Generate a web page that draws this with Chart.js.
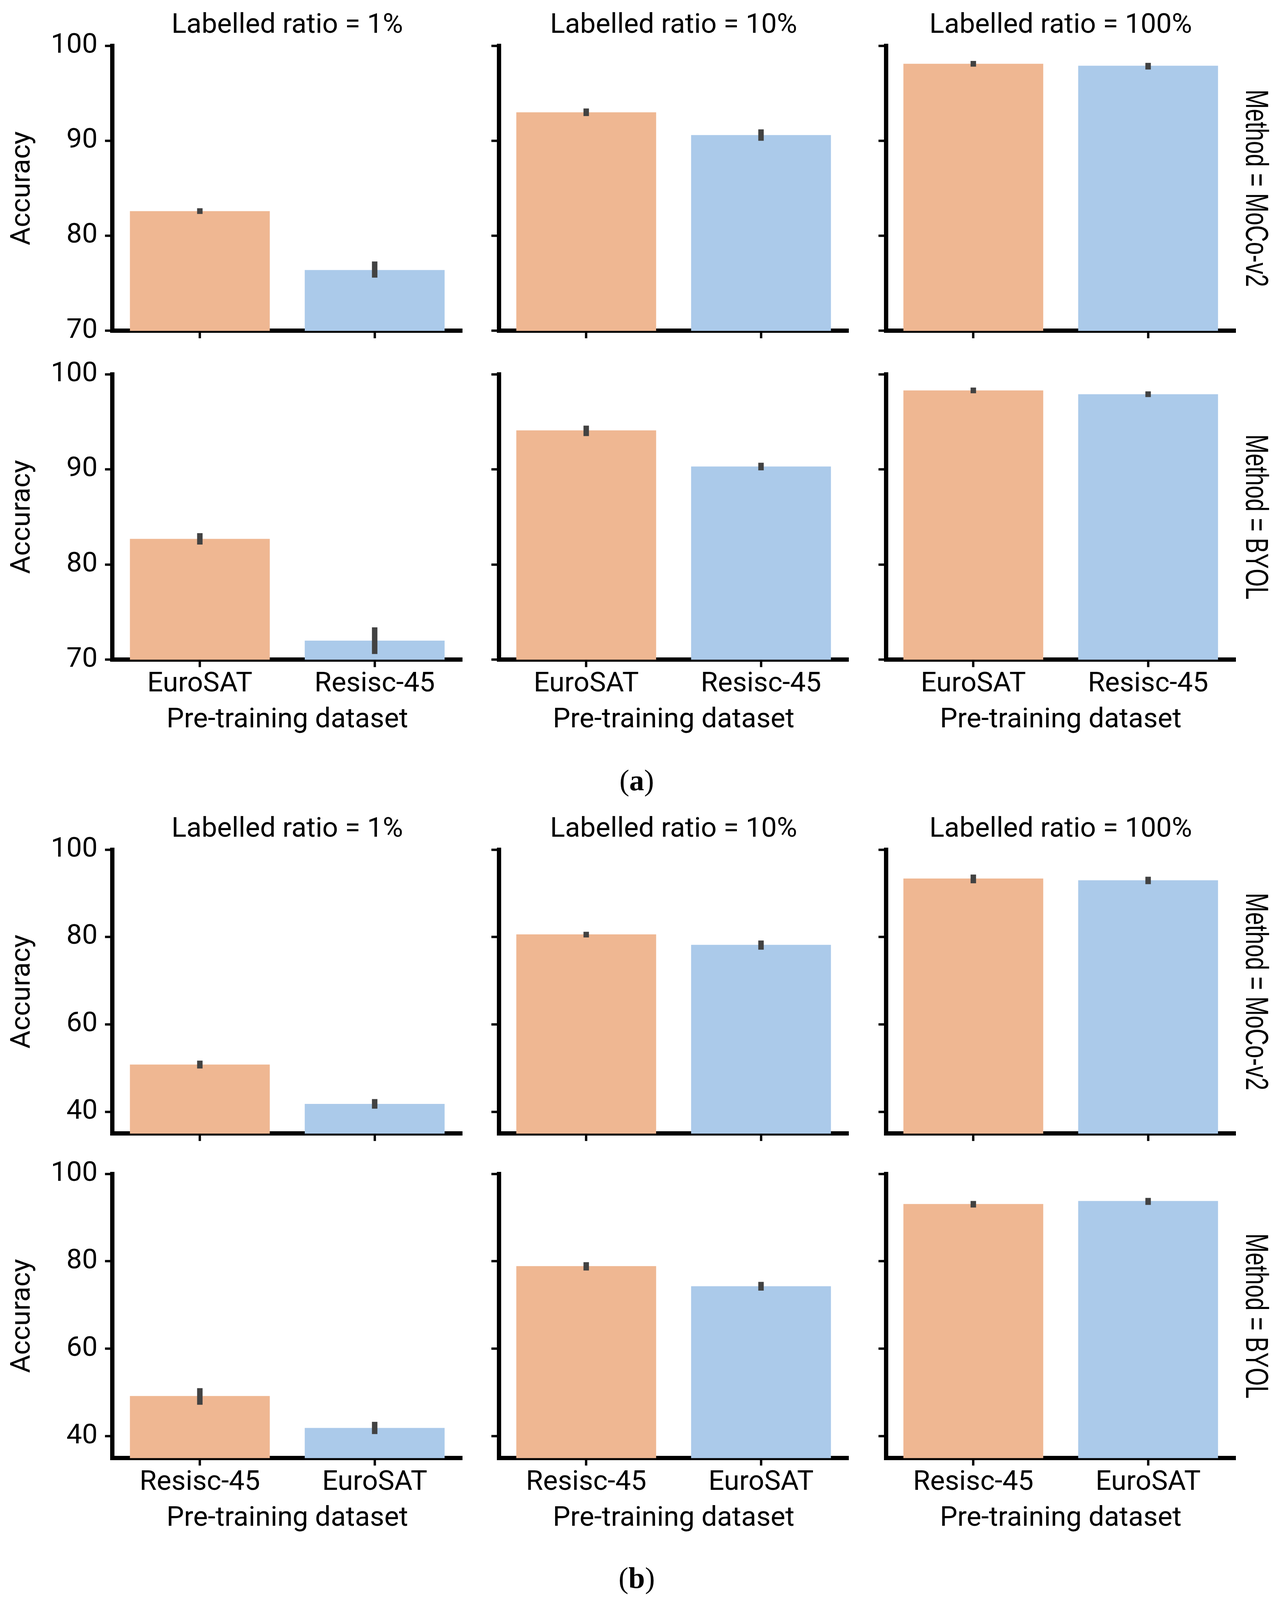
<!DOCTYPE html>
<html>
<head>
<meta charset="utf-8">
<script src="https://cdn.jsdelivr.net/npm/chart.js@4.4.1/dist/chart.umd.min.js"></script>
<style>
  html, body { margin: 0; padding: 0; background: #fff; overflow: hidden; }
  #wrap { position: relative; width: 3282px; height: 4650px; background: #fff; overflow: hidden; }
  .sub { position: absolute; left: 1430px; width: 400px; text-align: center;
         font-family: "Liberation Serif", "DejaVu Serif", serif;
         font-size: 76px; line-height: 76px; color: #000; }
  .sub b { font-weight: bold; }
</style>
</head>
<body>
<div id="wrap">
  <div class="sub" id="subA">(<b>a</b>)</div>
  <div class="sub" id="subB">(<b>b</b>)</div>
</div>
<script>
// facets
const ratios = ['1%', '10%', '100%'];
const methods = ['MoCo-v2', 'BYOL'];

// x categories (pre-training dataset) for each half of the figure
const datasetsA = ['EuroSAT', 'Resisc-45'];
const datasetsB = ['Resisc-45', 'EuroSAT'];

// y ticks
const yTicksA = [70, 80, 90, 100];
const yTicksB = [40, 60, 80, 100];

// (a) mean accuracy, one pair per labelled ratio (1%, 10%, 100%)
const accA_moco = [[82.6, 76.4], [93.0, 90.6], [98.1, 97.9]];
const accA_byol = [[82.7, 72.0], [94.1, 90.3], [98.3, 97.9]];
// (a) error bars [low, high]
const ciA_moco = [[[82.3, 82.9], [75.6, 77.3]], [[92.6, 93.4], [90.0, 91.2]], [[97.8, 98.4], [97.5, 98.2]]];
const ciA_byol = [[[82.1, 83.3], [70.6, 73.4]], [[93.5, 94.6], [89.9, 90.7]], [[98.0, 98.6], [97.6, 98.2]]];

// (b) mean accuracy
const accB_moco = [[50.8, 41.8], [80.6, 78.2], [93.4, 93.0]];
const accB_byol = [[49.2, 41.9], [78.9, 74.3], [93.1, 93.8]];
// (b) error bars
const ciB_moco = [[[49.9, 51.7], [40.7, 42.9]], [[79.9, 81.2], [77.1, 79.2]], [[92.3, 94.3], [92.1, 93.8]]];
const ciB_byol = [[[47.2, 51.0], [40.5, 43.3]], [[77.9, 79.8], [73.3, 75.3]], [[92.3, 93.8], [92.9, 94.5]]];

Chart.defaults.font.family = 'Roboto, "Liberation Sans", sans-serif';
Chart.defaults.color = '#000';

const ORANGE = '#efb792';
const BLUE = '#abcaea';
const ERR = '#424242';
const FS = 71;
const FONT = { size: FS, lineHeight: 1.1 };

// the window may be shorter than the figure: squeeze the vertical layout to fit
const FIG_H = 4650;
const SY = Math.min(1, window.innerHeight / FIG_H);

// where the plot areas go on the page
const colLeft = [288, 1277, 2268];
const plotW = 895;
const rows = [
  { top: 133,  bottom: 961,  cats: datasetsA, acc: accA_moco, ci: ciA_moco, method: methods[0], yMin: 70, yMax: 100, yTicks: yTicksA, first: true,  last: false },
  { top: 1088, bottom: 1918, cats: datasetsA, acc: accA_byol, ci: ciA_byol, method: methods[1], yMin: 70, yMax: 100, yTicks: yTicksA, first: false, last: true },
  { top: 2469, bottom: 3294, cats: datasetsB, acc: accB_moco, ci: ciB_moco, method: methods[0], yMin: 35, yMax: 100, yTicks: yTicksB, first: true,  last: false },
  { top: 3412, bottom: 4238, cats: datasetsB, acc: accB_byol, ci: ciB_byol, method: methods[1], yMin: 35, yMax: 100, yTicks: yTicksB, first: false, last: true }
];

const wrap = document.getElementById('wrap');
wrap.style.height = Math.round(FIG_H * SY) + 'px';
document.getElementById('subA').style.top = Math.round(2267 * SY - 38) + 'px';
document.getElementById('subB').style.top = Math.round(4585 * SY - 38) + 'px';

// vertical error bar on every bar
const errorBars = {
  id: 'errorBars',
  afterDatasetsDraw(chart) {
    const ctx = chart.ctx;
    const y = chart.scales.y;
    const ds = chart.data.datasets[0];
    const meta = chart.getDatasetMeta(0);
    ctx.save();
    ctx.strokeStyle = ERR;
    ctx.lineWidth = 14;
    ctx.lineCap = 'butt';
    ds.ci.forEach((c, i) => {
      const x = meta.data[i].x;
      ctx.beginPath();
      ctx.moveTo(x, y.getPixelForValue(c[0]));
      ctx.lineTo(x, y.getPixelForValue(c[1]));
      ctx.stroke();
    });
    ctx.restore();
  }
};

// row label on the right of the last column
function methodLabel(text) {
  return {
    id: 'methodLabel',
    afterDraw(chart) {
      const ctx = chart.ctx;
      const a = chart.chartArea;
      ctx.save();
      ctx.translate(a.right + 27, (a.top + a.bottom) / 2);
      ctx.rotate(Math.PI / 2);
      ctx.scale(0.82 * SY, 1);
      ctx.font = '82px "Liberation Sans", Arial, sans-serif';
      ctx.fillStyle = '#000';
      ctx.textAlign = 'center';
      ctx.textBaseline = 'alphabetic';
      ctx.fillText(text, 0, 0);
      ctx.restore();
    }
  };
}

function makeConfig(row, col) {
  const axisGrid = { display: true, drawOnChartArea: false, offset: false, color: '#000', tickLength: 19, tickWidth: 6 };
  const axisBorder = { display: true, color: '#000', width: 11 };
  return {
    type: 'bar',
    data: {
      labels: row.cats,
      datasets: [{
        data: row.acc[col],
        ci: row.ci[col],
        backgroundColor: [ORANGE, BLUE],
        borderWidth: 0,
        barPercentage: 0.8,
        categoryPercentage: 1
      }]
    },
    options: {
      responsive: false,
      maintainAspectRatio: false,
      animation: false,
      devicePixelRatio: 1,
      events: [],
      layout: { padding: { top: 0, left: 0, right: col === 2 ? 120 : 20, bottom: 0 } },
      plugins: {
        legend: { display: false },
        tooltip: { enabled: false },
        title: {
          display: row.first,
          fullSize: false,
          text: 'Labelled ratio = ' + ratios[col],
          color: '#000',
          font: { size: FS, lineHeight: 1.1, weight: 'normal' },
          padding: { top: 0, bottom: 12 }
        }
      },
      scales: {
        x: {
          z: 1,
          grid: axisGrid,
          border: axisBorder,
          ticks: { display: row.last, color: '#000', font: FONT, padding: 5, maxRotation: 0 },
          title: { display: row.last, text: 'Pre-training dataset', color: '#000', font: FONT, padding: { top: 9, bottom: 0 } }
        },
        y: {
          z: 1,
          min: row.yMin,
          max: row.yMax,
          afterBuildTicks: s => { s.ticks = row.yTicks.map(v => ({ value: v })); },
          grid: axisGrid,
          border: axisBorder,
          ticks: { color: '#000', font: FONT, padding: 19, callback: v => (col === 0 ? v : '') },
          title: { display: col === 0, text: 'Accuracy', color: '#000', font: FONT, padding: { top: 0, bottom: 14 } }
        }
      }
    },
    plugins: col === 2 ? [errorBars, methodLabel('Method = ' + row.method)] : [errorBars]
  };
}

// draw once off to the side to learn the margins, then size and place the real canvas
function place(row, col) {
  const PW0 = 1400, PH0 = 1300;
  const probe = document.createElement('canvas');
  probe.width = PW0; probe.height = PH0;
  probe.style.position = 'absolute';
  probe.style.left = '0px'; probe.style.top = '0px';
  wrap.appendChild(probe);
  const pc = new Chart(probe, makeConfig(row, col));
  const a = pc.chartArea;
  const ml = a.left, mt = a.top, mr = PW0 - a.right, mb = PH0 - a.bottom;
  pc.destroy();
  probe.remove();

  const top = Math.round(row.top * SY);
  const h = Math.round(row.bottom * SY) - top;
  const cv = document.createElement('canvas');
  cv.width = Math.round(ml + plotW + mr);
  cv.height = Math.round(mt + h + mb);
  cv.style.position = 'absolute';
  cv.style.left = (colLeft[col] - ml) + 'px';
  cv.style.top = (top - mt) + 'px';
  wrap.appendChild(cv);
  new Chart(cv, makeConfig(row, col));
}

rows.forEach(row => {
  for (let col = 0; col < 3; col++) place(row, col);
});
</script>
</body>
</html>
